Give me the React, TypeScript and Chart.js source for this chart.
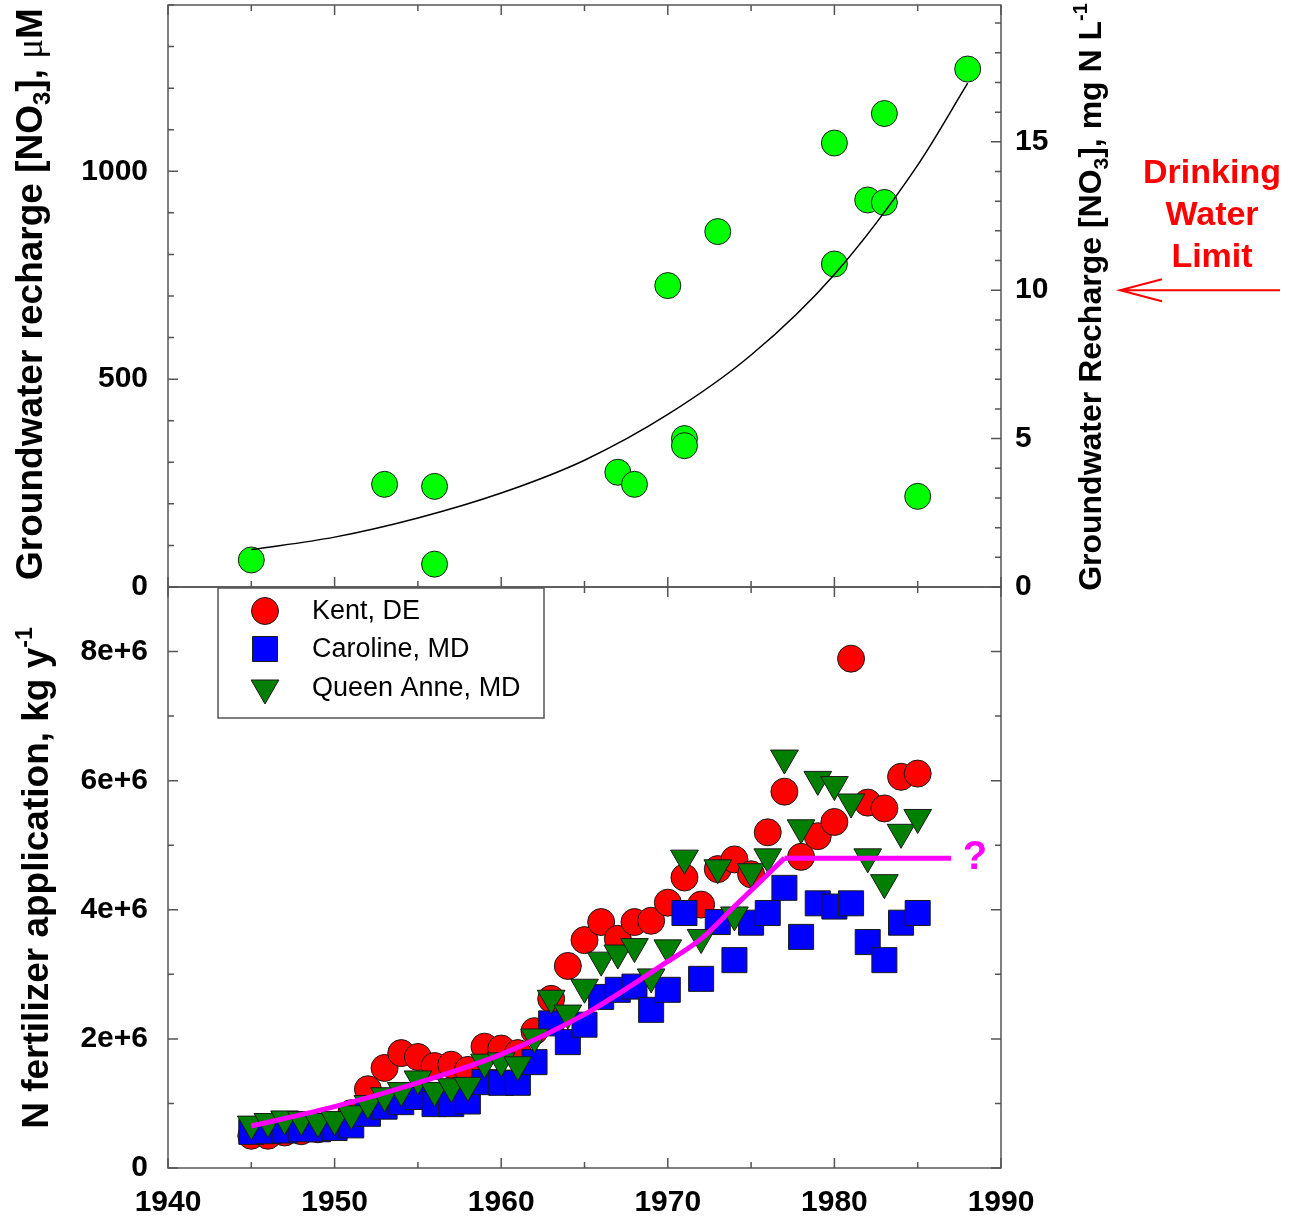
import React, { useEffect, useRef } from 'react';
import { Chart, registerables } from 'chart.js';
Chart.register(...registerables);

const FONT = "'Liberation Sans', Arial, Helvetica, sans-serif";

// ---------- top panel: groundwater recharge nitrate ----------
const rechargeYears = [1945, 1953, 1956, 1956, 1967, 1968, 1971, 1971, 1970, 1973, 1980, 1980, 1982, 1983, 1983, 1985, 1988];
const rechargeNO3uM = [65, 247, 242, 55, 276, 247, 357, 340, 725, 855, 1068, 777, 931, 1139, 925, 218, 1246];
const fitYears = [1945, 1950, 1955, 1960, 1965, 1970, 1975, 1980, 1985, 1988];
const fitNO3uM = [90, 120, 166, 226, 305, 415, 558, 752, 1015, 1212];

const topLeftTickLabels = [0, 500, 1000];
const topLeftMinorTicks = [0, 100, 200, 300, 400, 500, 600, 700, 800, 900, 1000, 1100, 1200, 1300, 1400];
const topRightTickLabels = [0, 5, 10, 15];
const topRightMinorTicks = [0, 1, 2, 3, 4, 5, 6, 7, 8, 9, 10, 11, 12, 13, 14, 15, 16, 17, 18, 19];
const MG_N_PER_UM = 0.014007;
const drinkingWaterLimitMg = 10;

// ---------- bottom panel: N fertilizer application ----------
const fertYears = [1945, 1946, 1947, 1948, 1949, 1950, 1951, 1952, 1953, 1954, 1955, 1956, 1957, 1958, 1959, 1960, 1961, 1962, 1963, 1964, 1965, 1966, 1967, 1968, 1969, 1970, 1971, 1972, 1973, 1974, 1975, 1976, 1977, 1978, 1979, 1980, 1981, 1982, 1983, 1984, 1985];
// millions of kg per year
const kentDE = [0.50, 0.50, 0.55, 0.57, 0.60, 0.65, 0.85, 1.22, 1.55, 1.78, 1.72, 1.58, 1.60, 1.52, 1.88, 1.85, 1.78, 2.12, 2.62, 3.13, 3.53, 3.81, 3.55, 3.81, 3.83, 4.11, 4.50, 4.08, 4.63, 4.78, 4.55, 5.20, 5.83, 4.82, 5.14, 5.36, 7.89, 5.66, 5.57, 6.06, 6.11];
const carolineMD = [0.56, 0.57, 0.58, 0.60, 0.60, 0.62, 0.66, 0.84, 0.95, 1.02, 1.10, 0.99, 0.99, 1.03, 1.33, 1.32, 1.32, 1.64, 2.24, 1.95, 2.22, 2.65, 2.76, 2.81, 2.45, 2.76, 3.95, 2.93, 3.81, 3.22, 3.80, 3.95, 4.34, 3.58, 4.10, 4.05, 4.10, 3.50, 3.22, 3.80, 3.95];
const queenAnneMD = [0.68, 0.72, 0.76, 0.75, 0.72, 0.75, 0.84, 1.00, 1.12, 1.20, 1.38, 1.20, 1.26, 1.28, 1.64, 1.66, 1.60, 2.03, 2.63, 2.40, 2.80, 3.22, 3.33, 3.43, 2.96, 3.41, 4.80, 3.57, 4.65, 3.92, 4.59, 4.82, 6.35, 5.27, 6.02, 5.94, 5.67, 4.82, 4.42, 5.20, 5.43];
const trendYears = [1945, 1950, 1955, 1960, 1965, 1970, 1972, 1974, 1977];
const trendMkg = [0.65, 0.95, 1.32, 1.76, 2.38, 3.2, 3.55, 4.05, 4.8];
const plateauYears = [1977, 1987];
const plateauMkg = [4.8, 4.8];

const bottomTickValues = [0, 2e6, 4e6, 6e6, 8e6];
const bottomTickLabels = ['0', '2e+6', '4e+6', '6e+6', '8e+6'];
const bottomMinorTicks = [0, 1e6, 2e6, 3e6, 4e6, 5e6, 6e6, 7e6, 8e6, 9e6];

const xTickLabels = [1940, 1950, 1960, 1970, 1980, 1990];
const xMinorTicks = [1940, 1945, 1950, 1955, 1960, 1965, 1970, 1975, 1980, 1985, 1990];

const legendNames = ['Kent, DE', 'Caroline, MD', 'Queen Anne, MD'];

const RED = '#ff0000';
const BLUE = '#0000ff';
const DKGREEN = '#007f00';
const LTGREEN = '#00ff00';
const MAGENTA = '#ff00ff';
const FRAME = '#555555';

const PLOT_LEFT = 168;
const PLOT_RIGHT = 1001;

type Seg = { text: string; font: string; dy?: number };

function drawRotatedRich(ctx: CanvasRenderingContext2D, segs: Seg[], x: number, y: number, color = '#000') {
  ctx.save();
  ctx.translate(x, y);
  ctx.rotate(-Math.PI / 2);
  let total = 0;
  for (const s of segs) {
    ctx.font = s.font;
    total += ctx.measureText(s.text).width;
  }
  let cx = -total / 2;
  ctx.textBaseline = 'alphabetic';
  ctx.textAlign = 'left';
  ctx.fillStyle = color;
  for (const s of segs) {
    ctx.font = s.font;
    ctx.fillText(s.text, cx, s.dy || 0);
    cx += ctx.measureText(s.text).width;
  }
  ctx.restore();
}

function tickSet(ctx: CanvasRenderingContext2D, chart: any, axis: string, values: number[], majors: number[], sides: string[]) {
  const a = chart.chartArea;
  const s = chart.scales[axis];
  ctx.save();
  ctx.strokeStyle = FRAME;
  ctx.lineWidth = 1.5;
  ctx.beginPath();
  for (const v of values) {
    const len = majors.includes(v) ? 10 : 6;
    const p = s.getPixelForValue(v);
    for (const side of sides) {
      if (side === 'bottom') { ctx.moveTo(p, a.bottom); ctx.lineTo(p, a.bottom - len); }
      if (side === 'top') { ctx.moveTo(p, a.top); ctx.lineTo(p, a.top + len); }
      if (side === 'left') { ctx.moveTo(a.left, p); ctx.lineTo(a.left + len, p); }
      if (side === 'right') { ctx.moveTo(a.right, p); ctx.lineTo(a.right - len, p); }
    }
  }
  ctx.stroke();
  ctx.restore();
}

function frame(ctx: CanvasRenderingContext2D, chart: any) {
  const a = chart.chartArea;
  ctx.save();
  ctx.strokeStyle = FRAME;
  ctx.lineWidth = 1.5;
  ctx.strokeRect(a.left, a.top, a.right - a.left, a.bottom - a.top);
  ctx.restore();
}

const tickFont = { family: FONT, size: 30, weight: 'bold' as const };

function TopChart() {
  const ref = useRef<HTMLCanvasElement>(null);
  useEffect(() => {
    const plugin = {
      id: 'topDecor',
      beforeDatasetsDraw(chart: any) {
        const ctx = chart.ctx;
        frame(ctx, chart);
        tickSet(ctx, chart, 'x', xMinorTicks, xTickLabels, ['top', 'bottom']);
        tickSet(ctx, chart, 'y', topLeftMinorTicks, topLeftTickLabels, ['left']);
        tickSet(ctx, chart, 'y2', topRightMinorTicks, topRightTickLabels, ['right']);
      },
      afterDraw(chart: any) {
        const ctx = chart.ctx;
        drawRotatedRich(ctx, [
          { text: 'Groundwater recharge [NO', font: `bold 37px ${FONT}` },
          { text: '3', font: `bold 24px ${FONT}`, dy: 8 },
          { text: '], ', font: `bold 37px ${FONT}` },
          { text: 'μ', font: `37px 'Liberation Serif', 'DejaVu Serif', serif` },
          { text: 'M', font: `bold 37px ${FONT}` },
        ], 42, 294);
        drawRotatedRich(ctx, [
          { text: 'Groundwater Recharge [NO', font: `bold 32px ${FONT}` },
          { text: '3', font: `bold 21px ${FONT}`, dy: 7 },
          { text: '], mg N L', font: `bold 32px ${FONT}` },
          { text: '-1', font: `bold 20px ${FONT}`, dy: -14 },
        ], 1101, 297);
        // Drinking water limit annotation
        const y10 = chart.scales.y2.getPixelForValue(drinkingWaterLimitMg);
        ctx.save();
        ctx.fillStyle = RED;
        ctx.font = `bold 34px ${FONT}`;
        ctx.textAlign = 'center';
        ctx.textBaseline = 'middle';
        ctx.fillText('Drinking', 1212, 174);
        ctx.fillText('Water', 1212, 216);
        ctx.fillText('Limit', 1212, 258);
        ctx.strokeStyle = RED;
        ctx.lineWidth = 2;
        ctx.beginPath();
        ctx.moveTo(1280, y10);
        ctx.lineTo(1120, y10);
        ctx.moveTo(1162, y10 - 11);
        ctx.lineTo(1120, y10);
        ctx.lineTo(1162, y10 + 11);
        ctx.stroke();
        ctx.restore();
      },
    };
    const chart = new Chart(ref.current!, {
      type: 'scatter',
      data: {
        datasets: [
          {
            label: 'fit',
            data: fitYears.map((x, i) => ({ x, y: fitNO3uM[i] })),
            showLine: true,
            borderColor: '#000',
            borderWidth: 1.5,
            pointRadius: 0,
            cubicInterpolationMode: 'monotone',
            order: 0,
          } as any,
          {
            label: 'recharge',
            data: rechargeYears.map((x, i) => ({ x, y: rechargeNO3uM[i] })),
            pointStyle: 'circle',
            pointRadius: 13,
            backgroundColor: LTGREEN,
            borderColor: '#1a1a1a',
            borderWidth: 1,
            order: 1,
          },
        ],
      },
      options: {
        responsive: false,
        animation: false,
        events: [],
        layout: { autoPadding: false, padding: { top: 5, bottom: 33, left: 0, right: 0 } },
        plugins: { legend: { display: false }, tooltip: { enabled: false } },
        scales: {
          x: { type: 'linear', min: 1940, max: 1990, display: false },
          y: {
            type: 'linear', position: 'left', min: 0, max: 1400,
            afterFit: (s: any) => { s.width = PLOT_LEFT; s.paddingTop = 0; s.paddingBottom = 0; },
            afterBuildTicks: (s: any) => { s.ticks = topLeftTickLabels.map((v) => ({ value: v })); },
            ticks: { font: tickFont, color: '#000', padding: 20, callback: (v: any) => String(v) },
            grid: { display: false, drawTicks: false },
            border: { display: false },
          },
          y2: {
            type: 'linear', position: 'right', min: 0, max: 1400 * MG_N_PER_UM,
            afterFit: (s: any) => { s.width = 1296 - PLOT_RIGHT; s.paddingTop = 0; s.paddingBottom = 0; },
            afterBuildTicks: (s: any) => { s.ticks = topRightTickLabels.map((v) => ({ value: v })); },
            ticks: { font: tickFont, color: '#000', padding: 14, callback: (v: any) => String(v) },
            grid: { display: false, drawTicks: false },
            border: { display: false },
          },
        },
      } as any,
      plugins: [plugin],
    });
    return () => chart.destroy();
  }, []);
  return <canvas ref={ref} width={1296} height={620} style={{ position: 'absolute', left: 0, top: 0, width: 1296, height: 620 }} />;
}

function BottomChart() {
  const ref = useRef<HTMLCanvasElement>(null);
  useEffect(() => {
    const plugin = {
      id: 'bottomDecor',
      beforeDatasetsDraw(chart: any) {
        const ctx = chart.ctx;
        frame(ctx, chart);
        tickSet(ctx, chart, 'x', xMinorTicks, xTickLabels, ['top', 'bottom']);
        tickSet(ctx, chart, 'y', bottomMinorTicks, bottomTickValues, ['left', 'right']);
      },
      afterDraw(chart: any) {
        const ctx = chart.ctx;
        drawRotatedRich(ctx, [
          { text: 'N fertilizer application, kg y', font: `bold 37px ${FONT}` },
          { text: '-1', font: `bold 23px ${FONT}`, dy: -16 },
        ], 48, 298);
        // legend
        const lx = 218, ly = 8, lw = 326, lh = 130;
        ctx.save();
        ctx.fillStyle = '#fff';
        ctx.fillRect(lx, ly, lw, lh);
        ctx.strokeStyle = FRAME;
        ctx.lineWidth = 1.5;
        ctx.strokeRect(lx, ly, lw, lh);
        const rows = [31, 69, 108];
        const mx = 265;
        ctx.lineWidth = 1;
        ctx.strokeStyle = '#1a1a1a';
        ctx.fillStyle = RED;
        ctx.beginPath();
        ctx.arc(mx, rows[0], 13.5, 0, Math.PI * 2);
        ctx.fill();
        ctx.stroke();
        ctx.fillStyle = BLUE;
        ctx.beginPath();
        ctx.rect(mx - 12.5, rows[1] - 12.5, 25, 25);
        ctx.fill();
        ctx.stroke();
        const r = 16;
        ctx.fillStyle = DKGREEN;
        ctx.beginPath();
        ctx.moveTo(mx, rows[2] + r);
        ctx.lineTo(mx - r * Math.sin(Math.PI / 3), rows[2] - r / 2);
        ctx.lineTo(mx + r * Math.sin(Math.PI / 3), rows[2] - r / 2);
        ctx.closePath();
        ctx.fill();
        ctx.stroke();
        ctx.fillStyle = '#000';
        ctx.font = `27px ${FONT}`;
        ctx.textAlign = 'left';
        ctx.textBaseline = 'middle';
        legendNames.forEach((n, i) => ctx.fillText(n, 312, rows[i] + 1));
        const qx = chart.scales.x.getPixelForValue(plateauYears[plateauYears.length - 1]) + 24;
        const qy = chart.scales.y.getPixelForValue(plateauMkg[plateauMkg.length - 1] * 1e6);
        ctx.fillStyle = MAGENTA;
        ctx.font = `bold 40px ${FONT}`;
        ctx.textAlign = 'center';
        ctx.textBaseline = 'middle';
        ctx.fillText('?', qx, qy);
        ctx.restore();
      },
    };
    const series = (vals: number[]) => fertYears.map((x, i) => ({ x, y: vals[i] * 1e6 }));
    const chart = new Chart(ref.current!, {
      type: 'scatter',
      data: {
        datasets: [
          {
            label: legendNames[0], data: series(kentDE), pointStyle: 'circle', pointRadius: 13.5,
            backgroundColor: RED, borderColor: '#1a1a1a', borderWidth: 1, order: 3,
          },
          {
            label: legendNames[1], data: series(carolineMD), pointStyle: 'rect', pointRadius: 17.7,
            backgroundColor: BLUE, borderColor: '#1a1a1a', borderWidth: 1, order: 2,
          },
          {
            label: legendNames[2], data: series(queenAnneMD), pointStyle: 'triangle', rotation: 180, pointRadius: 16,
            backgroundColor: DKGREEN, borderColor: '#1a1a1a', borderWidth: 1, order: 1,
          },
          {
            label: 'trend', data: trendYears.map((x, i) => ({ x, y: trendMkg[i] * 1e6 })),
            showLine: true, borderColor: MAGENTA, borderWidth: 5, pointRadius: 0,
            cubicInterpolationMode: 'monotone', order: 0,
          } as any,
          {
            label: 'plateau', data: plateauYears.map((x, i) => ({ x, y: plateauMkg[i] * 1e6 })),
            showLine: true, borderColor: MAGENTA, borderWidth: 5, pointRadius: 0, order: 0,
          } as any,
        ],
      },
      options: {
        responsive: false,
        animation: false,
        events: [],
        layout: { autoPadding: false, padding: { top: 7, bottom: 0, left: 0, right: 1296 - PLOT_RIGHT } },
        plugins: { legend: { display: false }, tooltip: { enabled: false } },
        scales: {
          x: {
            type: 'linear', min: 1940, max: 1990, position: 'bottom',
            afterFit: (s: any) => { s.height = 57; s.paddingLeft = 0; s.paddingRight = 0; },
            afterBuildTicks: (s: any) => { s.ticks = xTickLabels.map((v) => ({ value: v })); },
            ticks: { font: tickFont, color: '#000', padding: 17, maxRotation: 0, autoSkip: false, callback: (v: any) => String(v) },
            grid: { display: false, drawTicks: false },
            border: { display: false },
          },
          y: {
            type: 'linear', position: 'left', min: 0, max: 9e6,
            afterFit: (s: any) => { s.width = PLOT_LEFT; s.paddingTop = 0; s.paddingBottom = 0; },
            afterBuildTicks: (s: any) => { s.ticks = bottomTickValues.map((v) => ({ value: v })); },
            ticks: {
              font: tickFont, color: '#000', padding: 20,
              callback: (v: any) => bottomTickLabels[bottomTickValues.indexOf(Number(v))] ?? '',
            },
            grid: { display: false, drawTicks: false },
            border: { display: false },
          },
        },
      } as any,
      plugins: [plugin],
    });
    return () => chart.destroy();
  }, []);
  return <canvas ref={ref} width={1296} height={645} style={{ position: 'absolute', left: 0, top: 580, width: 1296, height: 645 }} />;
}

export default function App() {
  useEffect(() => {
    document.body.style.margin = '0';
  }, []);
  return (
    <div style={{ position: 'relative', width: 1296, height: 1225, background: '#fff', overflow: 'hidden' }}>
      <TopChart />
      <BottomChart />
    </div>
  );
}
